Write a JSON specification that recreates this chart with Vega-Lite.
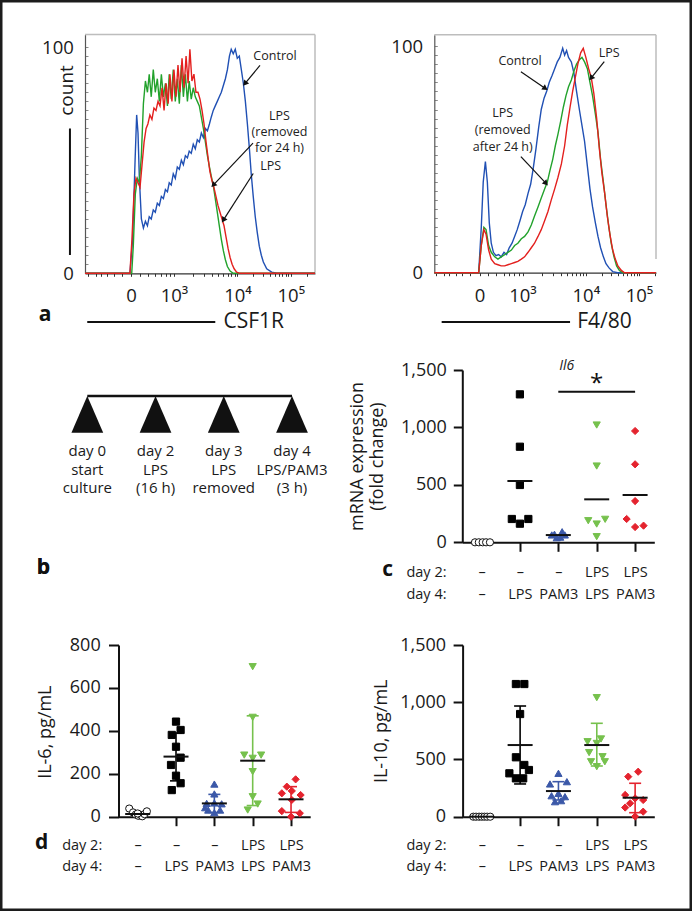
{
"$schema":"https://vega.github.io/schema/vega-lite/v6.json",
"width":692,"height":911,"padding":0,"autosize":{"type":"none"},
"background":"white",
"config":{"font":"Open Sans","view":{"stroke":"#1c1c1c","strokeWidth":5},"axis":{"grid":false,"labelColor":"#1a1a1a","titleColor":"#1a1a1a"}},
"resolve":{"scale":{"x":"independent","y":"independent","color":"independent","fill":"independent","stroke":"independent","shape":"independent"},"axis":{"x":"independent","y":"independent"}},
"datasets":{
"histL":[
{"s":"Control","ch":0,"count":0},{"s":"Control","ch":200,"count":0},{"s":"Control","ch":212,"count":15},{"s":"Control","ch":223,"count":50},{"s":"Control","ch":230,"count":70},{"s":"Control","ch":236,"count":62},{"s":"Control","ch":242,"count":42},{"s":"Control","ch":251,"count":24},{"s":"Control","ch":260,"count":20},{"s":"Control","ch":269,"count":23},{"s":"Control","ch":278,"count":21},{"s":"Control","ch":286,"count":25},{"s":"Control","ch":295,"count":24},{"s":"Control","ch":304,"count":28},{"s":"Control","ch":313,"count":27},{"s":"Control","ch":322,"count":31},{"s":"Control","ch":331,"count":30},{"s":"Control","ch":340,"count":34},{"s":"Control","ch":349,"count":33},{"s":"Control","ch":358,"count":37},{"s":"Control","ch":367,"count":36},{"s":"Control","ch":375,"count":40},{"s":"Control","ch":384,"count":39},{"s":"Control","ch":393,"count":44},{"s":"Control","ch":402,"count":42},{"s":"Control","ch":411,"count":47},{"s":"Control","ch":420,"count":46},{"s":"Control","ch":429,"count":50},{"s":"Control","ch":438,"count":48},{"s":"Control","ch":447,"count":52},{"s":"Control","ch":456,"count":51},{"s":"Control","ch":464,"count":54},{"s":"Control","ch":473,"count":53},{"s":"Control","ch":482,"count":57},{"s":"Control","ch":491,"count":55},{"s":"Control","ch":500,"count":59},{"s":"Control","ch":509,"count":58},{"s":"Control","ch":518,"count":62},{"s":"Control","ch":527,"count":60},{"s":"Control","ch":536,"count":64},{"s":"Control","ch":545,"count":63},{"s":"Control","ch":554,"count":66},{"s":"Control","ch":562,"count":69},{"s":"Control","ch":571,"count":72},{"s":"Control","ch":580,"count":74},{"s":"Control","ch":589,"count":76},{"s":"Control","ch":598,"count":78},{"s":"Control","ch":607,"count":80},{"s":"Control","ch":616,"count":83},{"s":"Control","ch":625,"count":86},{"s":"Control","ch":634,"count":90},{"s":"Control","ch":643,"count":96},{"s":"Control","ch":651,"count":99},{"s":"Control","ch":660,"count":97},{"s":"Control","ch":669,"count":99},{"s":"Control","ch":678,"count":95},{"s":"Control","ch":687,"count":96},{"s":"Control","ch":696,"count":90},{"s":"Control","ch":705,"count":84},{"s":"Control","ch":714,"count":76},{"s":"Control","ch":723,"count":66},{"s":"Control","ch":732,"count":55},{"s":"Control","ch":740,"count":44},{"s":"Control","ch":749,"count":34},{"s":"Control","ch":758,"count":25},{"s":"Control","ch":767,"count":18},{"s":"Control","ch":776,"count":12},{"s":"Control","ch":785,"count":8},{"s":"Control","ch":794,"count":5},{"s":"Control","ch":809,"count":2},{"s":"Control","ch":831,"count":0.5},{"s":"Control","ch":853,"count":0},{"s":"Control","ch":1024,"count":0},
{"s":"LPS removed","ch":0,"count":0},{"s":"LPS removed","ch":208,"count":0},{"s":"LPS removed","ch":215,"count":12},{"s":"LPS removed","ch":224,"count":35},{"s":"LPS removed","ch":233,"count":42},{"s":"LPS removed","ch":242,"count":40},{"s":"LPS removed","ch":251,"count":52},{"s":"LPS removed","ch":260,"count":75},{"s":"LPS removed","ch":269,"count":85},{"s":"LPS removed","ch":278,"count":80},{"s":"LPS removed","ch":286,"count":88},{"s":"LPS removed","ch":295,"count":78},{"s":"LPS removed","ch":304,"count":90},{"s":"LPS removed","ch":313,"count":80},{"s":"LPS removed","ch":322,"count":86},{"s":"LPS removed","ch":331,"count":76},{"s":"LPS removed","ch":340,"count":88},{"s":"LPS removed","ch":349,"count":78},{"s":"LPS removed","ch":358,"count":84},{"s":"LPS removed","ch":367,"count":74},{"s":"LPS removed","ch":375,"count":88},{"s":"LPS removed","ch":384,"count":77},{"s":"LPS removed","ch":393,"count":90},{"s":"LPS removed","ch":402,"count":76},{"s":"LPS removed","ch":411,"count":86},{"s":"LPS removed","ch":420,"count":75},{"s":"LPS removed","ch":429,"count":92},{"s":"LPS removed","ch":438,"count":78},{"s":"LPS removed","ch":447,"count":88},{"s":"LPS removed","ch":456,"count":76},{"s":"LPS removed","ch":464,"count":85},{"s":"LPS removed","ch":473,"count":77},{"s":"LPS removed","ch":482,"count":82},{"s":"LPS removed","ch":491,"count":78},{"s":"LPS removed","ch":500,"count":76},{"s":"LPS removed","ch":509,"count":74},{"s":"LPS removed","ch":518,"count":69},{"s":"LPS removed","ch":527,"count":64},{"s":"LPS removed","ch":536,"count":58},{"s":"LPS removed","ch":545,"count":52},{"s":"LPS removed","ch":554,"count":47},{"s":"LPS removed","ch":562,"count":43},{"s":"LPS removed","ch":571,"count":39},{"s":"LPS removed","ch":580,"count":33},{"s":"LPS removed","ch":589,"count":27},{"s":"LPS removed","ch":598,"count":21},{"s":"LPS removed","ch":607,"count":15},{"s":"LPS removed","ch":616,"count":10},{"s":"LPS removed","ch":625,"count":6},{"s":"LPS removed","ch":634,"count":3},{"s":"LPS removed","ch":646,"count":1},{"s":"LPS removed","ch":660,"count":0},{"s":"LPS removed","ch":1024,"count":0},
{"s":"LPS","ch":0,"count":0},{"s":"LPS","ch":200,"count":0},{"s":"LPS","ch":209,"count":15},{"s":"LPS","ch":218,"count":35},{"s":"LPS","ch":227,"count":42},{"s":"LPS","ch":236,"count":40},{"s":"LPS","ch":245,"count":38},{"s":"LPS","ch":254,"count":48},{"s":"LPS","ch":263,"count":58},{"s":"LPS","ch":272,"count":64},{"s":"LPS","ch":280,"count":66},{"s":"LPS","ch":289,"count":70},{"s":"LPS","ch":298,"count":68},{"s":"LPS","ch":307,"count":73},{"s":"LPS","ch":316,"count":72},{"s":"LPS","ch":325,"count":76},{"s":"LPS","ch":334,"count":74},{"s":"LPS","ch":343,"count":82},{"s":"LPS","ch":352,"count":72},{"s":"LPS","ch":361,"count":84},{"s":"LPS","ch":370,"count":75},{"s":"LPS","ch":378,"count":88},{"s":"LPS","ch":387,"count":76},{"s":"LPS","ch":396,"count":90},{"s":"LPS","ch":405,"count":78},{"s":"LPS","ch":414,"count":92},{"s":"LPS","ch":423,"count":80},{"s":"LPS","ch":432,"count":95},{"s":"LPS","ch":441,"count":82},{"s":"LPS","ch":450,"count":96},{"s":"LPS","ch":459,"count":84},{"s":"LPS","ch":467,"count":99},{"s":"LPS","ch":476,"count":85},{"s":"LPS","ch":485,"count":88},{"s":"LPS","ch":494,"count":80},{"s":"LPS","ch":503,"count":80},{"s":"LPS","ch":512,"count":77},{"s":"LPS","ch":521,"count":72},{"s":"LPS","ch":530,"count":66},{"s":"LPS","ch":539,"count":58},{"s":"LPS","ch":548,"count":51},{"s":"LPS","ch":556,"count":45},{"s":"LPS","ch":565,"count":41},{"s":"LPS","ch":574,"count":38},{"s":"LPS","ch":583,"count":34},{"s":"LPS","ch":592,"count":30},{"s":"LPS","ch":601,"count":27},{"s":"LPS","ch":610,"count":24},{"s":"LPS","ch":619,"count":21},{"s":"LPS","ch":628,"count":16},{"s":"LPS","ch":637,"count":11},{"s":"LPS","ch":646,"count":7},{"s":"LPS","ch":655,"count":4},{"s":"LPS","ch":664,"count":2},{"s":"LPS","ch":675,"count":0.5},{"s":"LPS","ch":690,"count":0},{"s":"LPS","ch":1024,"count":0}
],
"histR":[
{"s":"Control","ch":0,"count":0},{"s":"Control","ch":205,"count":0},{"s":"Control","ch":217,"count":20},{"s":"Control","ch":226,"count":40},{"s":"Control","ch":236,"count":49},{"s":"Control","ch":245,"count":40},{"s":"Control","ch":254,"count":22},{"s":"Control","ch":263,"count":13},{"s":"Control","ch":273,"count":9},{"s":"Control","ch":285,"count":7.5},{"s":"Control","ch":297,"count":8},{"s":"Control","ch":309,"count":7},{"s":"Control","ch":322,"count":9},{"s":"Control","ch":334,"count":8},{"s":"Control","ch":346,"count":11},{"s":"Control","ch":359,"count":13},{"s":"Control","ch":371,"count":16},{"s":"Control","ch":383,"count":19},{"s":"Control","ch":396,"count":23},{"s":"Control","ch":408,"count":27},{"s":"Control","ch":420,"count":30},{"s":"Control","ch":433,"count":35},{"s":"Control","ch":445,"count":39},{"s":"Control","ch":457,"count":46},{"s":"Control","ch":470,"count":55},{"s":"Control","ch":482,"count":64},{"s":"Control","ch":494,"count":72},{"s":"Control","ch":507,"count":77},{"s":"Control","ch":519,"count":80},{"s":"Control","ch":531,"count":84},{"s":"Control","ch":544,"count":87},{"s":"Control","ch":556,"count":90},{"s":"Control","ch":568,"count":93},{"s":"Control","ch":580,"count":95},{"s":"Control","ch":593,"count":99},{"s":"Control","ch":602,"count":96},{"s":"Control","ch":611,"count":98},{"s":"Control","ch":620,"count":95},{"s":"Control","ch":633,"count":93},{"s":"Control","ch":645,"count":88},{"s":"Control","ch":657,"count":80},{"s":"Control","ch":670,"count":72},{"s":"Control","ch":682,"count":65},{"s":"Control","ch":694,"count":58},{"s":"Control","ch":707,"count":47},{"s":"Control","ch":719,"count":37},{"s":"Control","ch":731,"count":29},{"s":"Control","ch":744,"count":22},{"s":"Control","ch":756,"count":16},{"s":"Control","ch":768,"count":11},{"s":"Control","ch":781,"count":7},{"s":"Control","ch":793,"count":4},{"s":"Control","ch":808,"count":2},{"s":"Control","ch":824,"count":0.5},{"s":"Control","ch":847,"count":0},{"s":"Control","ch":1024,"count":0},
{"s":"LPS removed","ch":0,"count":0},{"s":"LPS removed","ch":205,"count":0},{"s":"LPS removed","ch":217,"count":12},{"s":"LPS removed","ch":229,"count":20},{"s":"LPS removed","ch":239,"count":19},{"s":"LPS removed","ch":251,"count":12},{"s":"LPS removed","ch":263,"count":9},{"s":"LPS removed","ch":279,"count":7},{"s":"LPS removed","ch":294,"count":6},{"s":"LPS removed","ch":309,"count":7},{"s":"LPS removed","ch":325,"count":8},{"s":"LPS removed","ch":340,"count":9},{"s":"LPS removed","ch":356,"count":10},{"s":"LPS removed","ch":371,"count":12},{"s":"LPS removed","ch":386,"count":13},{"s":"LPS removed","ch":402,"count":15},{"s":"LPS removed","ch":417,"count":16},{"s":"LPS removed","ch":433,"count":18},{"s":"LPS removed","ch":448,"count":21},{"s":"LPS removed","ch":463,"count":25},{"s":"LPS removed","ch":479,"count":29},{"s":"LPS removed","ch":494,"count":33},{"s":"LPS removed","ch":510,"count":37},{"s":"LPS removed","ch":522,"count":40},{"s":"LPS removed","ch":534,"count":45},{"s":"LPS removed","ch":547,"count":50},{"s":"LPS removed","ch":559,"count":56},{"s":"LPS removed","ch":571,"count":61},{"s":"LPS removed","ch":584,"count":67},{"s":"LPS removed","ch":596,"count":73},{"s":"LPS removed","ch":608,"count":78},{"s":"LPS removed","ch":620,"count":82},{"s":"LPS removed","ch":633,"count":85},{"s":"LPS removed","ch":645,"count":89},{"s":"LPS removed","ch":657,"count":92},{"s":"LPS removed","ch":670,"count":94},{"s":"LPS removed","ch":682,"count":95},{"s":"LPS removed","ch":694,"count":93},{"s":"LPS removed","ch":707,"count":90},{"s":"LPS removed","ch":719,"count":84},{"s":"LPS removed","ch":731,"count":78},{"s":"LPS removed","ch":744,"count":70},{"s":"LPS removed","ch":756,"count":62},{"s":"LPS removed","ch":768,"count":50},{"s":"LPS removed","ch":781,"count":40},{"s":"LPS removed","ch":793,"count":30},{"s":"LPS removed","ch":805,"count":21},{"s":"LPS removed","ch":817,"count":13},{"s":"LPS removed","ch":830,"count":7},{"s":"LPS removed","ch":842,"count":3},{"s":"LPS removed","ch":855,"count":1},{"s":"LPS removed","ch":870,"count":0},{"s":"LPS removed","ch":1024,"count":0},
{"s":"LPS","ch":0,"count":0},{"s":"LPS","ch":205,"count":0},{"s":"LPS","ch":217,"count":12},{"s":"LPS","ch":229,"count":19},{"s":"LPS","ch":239,"count":17},{"s":"LPS","ch":251,"count":10},{"s":"LPS","ch":263,"count":6},{"s":"LPS","ch":279,"count":4},{"s":"LPS","ch":294,"count":3.5},{"s":"LPS","ch":309,"count":3},{"s":"LPS","ch":325,"count":3},{"s":"LPS","ch":340,"count":3.5},{"s":"LPS","ch":356,"count":4},{"s":"LPS","ch":371,"count":4.5},{"s":"LPS","ch":386,"count":5},{"s":"LPS","ch":402,"count":6},{"s":"LPS","ch":417,"count":7},{"s":"LPS","ch":433,"count":9},{"s":"LPS","ch":448,"count":11},{"s":"LPS","ch":463,"count":13},{"s":"LPS","ch":479,"count":16},{"s":"LPS","ch":494,"count":19},{"s":"LPS","ch":510,"count":23},{"s":"LPS","ch":525,"count":27},{"s":"LPS","ch":540,"count":32},{"s":"LPS","ch":556,"count":37},{"s":"LPS","ch":571,"count":42},{"s":"LPS","ch":587,"count":48},{"s":"LPS","ch":602,"count":56},{"s":"LPS","ch":614,"count":65},{"s":"LPS","ch":627,"count":73},{"s":"LPS","ch":639,"count":80},{"s":"LPS","ch":651,"count":86},{"s":"LPS","ch":663,"count":92},{"s":"LPS","ch":676,"count":97},{"s":"LPS","ch":688,"count":99},{"s":"LPS","ch":700,"count":95},{"s":"LPS","ch":713,"count":90},{"s":"LPS","ch":725,"count":86},{"s":"LPS","ch":737,"count":79},{"s":"LPS","ch":750,"count":68},{"s":"LPS","ch":762,"count":55},{"s":"LPS","ch":774,"count":44},{"s":"LPS","ch":787,"count":35},{"s":"LPS","ch":799,"count":25},{"s":"LPS","ch":811,"count":17},{"s":"LPS","ch":824,"count":10},{"s":"LPS","ch":836,"count":6},{"s":"LPS","ch":848,"count":3},{"s":"LPS","ch":864,"count":1},{"s":"LPS","ch":879,"count":0},{"s":"LPS","ch":1024,"count":0}
],
"frameL":[{"ch":0,"count":105.5,"ch2":1024,"count2":105.5},{"ch":1024,"count":0,"ch2":1024,"count2":105.5}],
"barsL":[{"ch":-67,"count":8.1,"ch2":-67,"count2":64},{"ch":10,"count":-21.5,"ch2":580,"count2":-21.5}],
"textL":[{"ch":846,"count":95.9,"t":"Control"},{"ch":866,"count":69.5,"t":"LPS"},{"ch":866,"count":62.5,"t":"(removed"},{"ch":866,"count":55.3,"t":"for 24 h)"},{"ch":827,"count":47.3,"t":"LPS"}],
"arrowsL":[{"ch":712,"count":83.8,"ch2":779,"count2":91.9,"angle":219},{"ch":571,"count":39,"ch2":748,"count2":57.5,"angle":223},{"ch":616,"count":23.5,"ch2":749,"count2":44.1,"angle":213}],
"letterA":[{"ch":-178,"count":-18.4,"t":"a"}],
"frameR":[{"ch":0,"count":105,"ch2":1024,"count2":105},{"ch":1024,"count":6,"ch2":1024,"count2":105}],
"barsR":[{"ch":34,"count":-21.7,"ch2":627,"count2":-21.7}],
"textR":[{"ch":808,"count":97,"t":"LPS"},{"ch":396,"count":93.4,"t":"Control"},{"ch":316,"count":70.3,"t":"LPS"},{"ch":316,"count":63,"t":"(removed"},{"ch":316,"count":55.6,"t":"after 24 h)"}],
"arrowsR":[{"ch":724,"count":85.8,"ch2":785,"count2":93.1,"angle":219},{"ch":513,"count":81.3,"ch2":400,"count2":88.7,"angle":124},{"ch":516,"count":39.4,"ch2":400,"count2":51.2,"angle":137}],
"timeline":[{"step":0,"step2":3,"row":0}],
"tri":[{"step":0,"row":1},{"step":1,"row":1},{"step":2,"row":1},{"step":3,"row":1}],
"tlabels":[{"step":0,"row":3,"t":"day 0"},{"step":0,"row":4,"t":"start"},{"step":0,"row":5,"t":"culture"},{"step":1,"row":3,"t":"day 2"},{"step":1,"row":4,"t":"LPS"},{"step":1,"row":5,"t":"(16 h)"},{"step":2,"row":3,"t":"day 3"},{"step":2,"row":4,"t":"LPS"},{"step":2,"row":5,"t":"removed"},{"step":3,"row":3,"t":"day 4"},{"step":3,"row":4,"t":"LPS/PAM3"},{"step":3,"row":5,"t":"(3 h)"}],
"letterB":[{"step":-0.645,"row":9.36,"t":"b"}],
"ptsC":[
{"grp":0.83,"val":0,"g":"1"},{"grp":0.93,"val":0,"g":"1"},{"grp":1.03,"val":0,"g":"1"},{"grp":1.12,"val":0,"g":"1"},{"grp":1.22,"val":0,"g":"1"},
{"grp":2.0,"val":1288,"g":"2"},{"grp":2.0,"val":832,"g":"2"},{"grp":2.0,"val":499,"g":"2"},{"grp":1.79,"val":203,"g":"2"},{"grp":2.0,"val":162,"g":"2"},{"grp":2.22,"val":203,"g":"2"},
{"grp":2.83,"val":64,"g":"3"},{"grp":2.96,"val":40,"g":"3"},{"grp":3.1,"val":92,"g":"3"},{"grp":3.05,"val":45,"g":"3"},{"grp":3.17,"val":64,"g":"3"},{"grp":2.9,"val":70,"g":"3"},
{"grp":4.0,"val":1021,"g":"4"},{"grp":4.0,"val":664,"g":"4"},{"grp":3.78,"val":188,"g":"4"},{"grp":4.0,"val":159,"g":"4"},{"grp":4.22,"val":200,"g":"4"},{"grp":4.0,"val":49,"g":"4"},
{"grp":5.0,"val":969,"g":"5"},{"grp":5.0,"val":679,"g":"5"},{"grp":5.0,"val":359,"g":"5"},{"grp":4.78,"val":203,"g":"5"},{"grp":5.0,"val":133,"g":"5"},{"grp":5.22,"val":145,"g":"5"}
],
"meanC":[{"grp":2,"val":533},{"grp":3,"val":63},{"grp":4,"val":374},{"grp":5,"val":412}],
"sigC":[{"grp":3,"grp2":5,"val":1311}],
"starC":[{"grp":4,"val":1375,"t":"*"}],
"geneC":[{"grp":3.22,"val":1537,"t":"Il6"}],
"letterC":[{"grp":-1.443,"val":-241,"t":"c"}],
"pts6":[
{"grp":0.78,"val":38,"g":"1"},{"grp":0.88,"val":20,"g":"1"},{"grp":0.95,"val":10,"g":"1"},{"grp":1.02,"val":4,"g":"1"},{"grp":1.08,"val":8,"g":"1"},{"grp":1.12,"val":2,"g":"1"},{"grp":1.0,"val":15,"g":"1"},{"grp":1.18,"val":12,"g":"1"},{"grp":1.24,"val":25,"g":"1"},
{"grp":2.0,"val":443,"g":"2"},{"grp":1.89,"val":381,"g":"2"},{"grp":2.12,"val":404,"g":"2"},{"grp":2.0,"val":326,"g":"2"},{"grp":2.12,"val":275,"g":"2"},{"grp":1.87,"val":241,"g":"2"},{"grp":2.0,"val":191,"g":"2"},{"grp":2.12,"val":156,"g":"2"},{"grp":1.89,"val":124,"g":"2"},
{"grp":3.0,"val":152,"g":"3"},{"grp":3.0,"val":106,"g":"3"},{"grp":2.8,"val":62,"g":"3"},{"grp":3.0,"val":64,"g":"3"},{"grp":3.19,"val":60,"g":"3"},{"grp":2.84,"val":31,"g":"3"},{"grp":3.15,"val":31,"g":"3"},{"grp":3.0,"val":19,"g":"3"},{"grp":2.76,"val":42,"g":"3"},
{"grp":4.0,"val":699,"g":"4"},{"grp":4.0,"val":463,"g":"4"},{"grp":3.78,"val":287,"g":"4"},{"grp":4.22,"val":287,"g":"4"},{"grp":4.0,"val":272,"g":"4"},{"grp":4.0,"val":210,"g":"4"},{"grp":4.0,"val":93,"g":"4"},{"grp":4.13,"val":59,"g":"4"},{"grp":3.87,"val":31,"g":"4"},
{"grp":5.12,"val":174,"g":"5"},{"grp":4.89,"val":140,"g":"5"},{"grp":4.76,"val":109,"g":"5"},{"grp":5.25,"val":101,"g":"5"},{"grp":5.02,"val":120,"g":"5"},{"grp":5.02,"val":78,"g":"5"},{"grp":4.76,"val":26,"g":"5"},{"grp":5.23,"val":16,"g":"5"},{"grp":5.0,"val":0,"g":"5"}
],
"sum6":[{"grp":1,"val":12.5,"g":"1"},{"grp":2,"val":280,"lo":167,"hi":390,"g":"2"},{"grp":3,"val":62,"lo":20,"hi":104,"g":"3"},{"grp":4,"val":261,"lo":52,"hi":470,"g":"4"},{"grp":5,"val":81,"lo":20,"hi":140,"g":"5"}],
"caps6":[{"grp":2,"val":167,"g":"2"},{"grp":2,"val":390,"g":"2"},{"grp":3,"val":20,"g":"3"},{"grp":3,"val":104,"g":"3"},{"grp":4,"val":52,"g":"4"},{"grp":4,"val":470,"g":"4"},{"grp":5,"val":20,"g":"5"},{"grp":5,"val":140,"g":"5"}],
"letters6":[{"grp":-1.46,"val":1157,"t":"b"},{"grp":-1.503,"val":-124,"t":"d"}],
"pts10":[
{"grp":0.78,"val":0,"g":"1"},{"grp":0.85,"val":0,"g":"1"},{"grp":0.93,"val":0,"g":"1"},{"grp":1.0,"val":0,"g":"1"},{"grp":1.07,"val":0,"g":"1"},{"grp":1.14,"val":0,"g":"1"},{"grp":1.22,"val":0,"g":"1"},
{"grp":1.89,"val":1159,"g":"2"},{"grp":2.11,"val":1159,"g":"2"},{"grp":2.0,"val":897,"g":"2"},{"grp":1.89,"val":519,"g":"2"},{"grp":2.11,"val":452,"g":"2"},{"grp":2.23,"val":408,"g":"2"},{"grp":1.72,"val":379,"g":"2"},{"grp":1.89,"val":335,"g":"2"},{"grp":2.08,"val":335,"g":"2"},
{"grp":3.0,"val":379,"g":"3"},{"grp":3.22,"val":306,"g":"3"},{"grp":2.78,"val":286,"g":"3"},{"grp":3.0,"val":204,"g":"3"},{"grp":2.82,"val":183,"g":"3"},{"grp":3.17,"val":175,"g":"3"},{"grp":2.91,"val":131,"g":"3"},{"grp":3.07,"val":140,"g":"3"},
{"grp":4.0,"val":1040,"g":"4"},{"grp":4.11,"val":679,"g":"4"},{"grp":3.76,"val":655,"g":"4"},{"grp":4.0,"val":640,"g":"4"},{"grp":3.8,"val":560,"g":"4"},{"grp":4.15,"val":524,"g":"4"},{"grp":3.85,"val":480,"g":"4"},{"grp":4.21,"val":480,"g":"4"},{"grp":4.0,"val":437,"g":"4"},
{"grp":5.08,"val":393,"g":"5"},{"grp":4.82,"val":350,"g":"5"},{"grp":4.74,"val":190,"g":"5"},{"grp":5.0,"val":160,"g":"5"},{"grp":5.21,"val":146,"g":"5"},{"grp":4.87,"val":117,"g":"5"},{"grp":4.74,"val":80,"g":"5"},{"grp":5.21,"val":44,"g":"5"},{"grp":5.0,"val":2,"g":"5"}
],
"sum10":[{"grp":1,"val":0,"g":"1"},{"grp":2,"val":626,"lo":286,"hi":967,"g":"2"},{"grp":3,"val":224,"lo":146,"hi":306,"g":"3"},{"grp":4,"val":626,"lo":443,"hi":816,"g":"4"},{"grp":5,"val":166,"lo":35,"hi":292,"g":"5"}],
"caps10":[{"grp":2,"val":286,"g":"2"},{"grp":2,"val":967,"g":"2"},{"grp":3,"val":146,"g":"3"},{"grp":3,"val":306,"g":"3"},{"grp":4,"val":443,"g":"4"},{"grp":4,"val":816,"g":"4"},{"grp":5,"val":35,"g":"5"},{"grp":5,"val":292,"g":"5"}]
},
"layer":[
{
"encoding":{
"x":{"field":"ch","type":"quantitative","scale":{"domain":[0,1024],"range":[85,315],"nice":false,"zero":false},
"axis":{"orient":"bottom","offset":-637.7,"values":[13.4,49,71,98,129,165,204.8,245,280,312,338,361,378,396.2,481,531,566,594,616,635,651,666,678.9,750,792,822,845,864,879,893,906,916.2,988],
"labelExpr":"datum.value == 204.8 ? '0' : datum.value == 396.2 ? '10³' : datum.value == 678.9 ? '10⁴' : datum.value == 916.2 ? '10⁵' : ''",
"tickSize":3,"tickWidth":1,"tickColor":"#333333","domainColor":"#333333","domainWidth":1.2,"labelFontSize":18.5,"labelBaseline":"middle","labelPadding":18.7,"labelOverlap":false,"labelFlush":false,"labelBound":false,
"title":"CSF1R","titleFontSize":21,"titleFontWeight":"normal","titleAlign":"left","titleBaseline":"middle","titleX":223,"titleY":48.4}},
"y":{"field":"count","type":"quantitative","scale":{"domain":[0,105.5],"range":[273.3,34.6],"nice":false,"zero":false},
"axis":{"orient":"left","offset":-85,"values":[0,4,8,12,16,20,24,28,32,36,40,44,48,52,56,60,64,68,72,76,80,84,88,92,96,100],
"labelExpr":"datum.value == 0 || datum.value == 100 ? datum.label : ''",
"tickSize":-3,"tickWidth":1,"tickColor":"#8a8a8a","domainColor":"#555555","domainWidth":1.2,"labelFontSize":18.5,"labelPadding":14.7,"labelBaseline":"middle","labelOverlap":false,"labelFlush":false,"labelBound":false,
"title":"count","titleFontSize":19,"titleFontWeight":"normal","titleAngle":-90,"titleAlign":"center","titleBaseline":"middle","titleX":-18.3,"titleY":90}}
},
"layer":[
{"data":{"name":"frameL"},"mark":{"type":"rule","color":"#bdbdbd","strokeWidth":1.5},"encoding":{"x2":{"field":"ch2"},"y2":{"field":"count2"}}},
{"data":{"name":"histL"},"mark":{"type":"line","strokeWidth":1.4},"encoding":{"color":{"field":"s","type":"nominal","scale":{"domain":["Control","LPS removed","LPS"],"range":["#2050b4","#22a22c","#e3201e"]},"legend":null}}},
{"data":{"name":"barsL"},"mark":{"type":"rule","color":"#111111","strokeWidth":2},"encoding":{"x2":{"field":"ch2"},"y2":{"field":"count2"}}},
{"data":{"name":"arrowsL"},"mark":{"type":"rule","color":"#111111","strokeWidth":1.2},"encoding":{"x2":{"field":"ch2"},"y2":{"field":"count2"}}},
{"data":{"name":"arrowsL"},"mark":{"type":"point","shape":"triangle-up","size":40,"filled":true,"color":"#111111","opacity":1},"encoding":{"angle":{"field":"angle","type":"quantitative","scale":null}}},
{"data":{"name":"textL"},"mark":{"type":"text","fontSize":12.5,"color":"#222222","align":"center","baseline":"middle"},"encoding":{"text":{"field":"t"}}},
{"data":{"name":"letterA"},"mark":{"type":"text","fontSize":21,"fontWeight":"bold","color":"#111111","align":"center","baseline":"middle"},"encoding":{"text":{"field":"t"}}}
]
},
{
"encoding":{
"x":{"field":"ch","type":"quantitative","scale":{"domain":[0,1024],"range":[434.3,656],"nice":false,"zero":false},
"axis":{"orient":"bottom","offset":-638.3,"values":[10,47,70,98,130,167,208.8,250,287,320,347,370,389,407.4,495.6,546.9,583.4,611.6,634.7,654.6,671.6,686.4,699.8,773.7,817.1,847.6,871.6,891,907.7,921.5,934.4,945.5,1019],
"labelExpr":"datum.value == 208.8 ? '0' : datum.value == 407.4 ? '10³' : datum.value == 699.8 ? '10⁴' : datum.value == 945.5 ? '10⁵' : ''",
"tickSize":3,"tickWidth":1,"tickColor":"#333333","domainColor":"#333333","domainWidth":1.2,"labelFontSize":18.5,"labelBaseline":"middle","labelPadding":19.3,"labelOverlap":false,"labelFlush":false,"labelBound":false,
"title":"F4/80","titleFontSize":21,"titleFontWeight":"normal","titleAlign":"left","titleBaseline":"middle","titleX":576.7,"titleY":49}},
"y":{"field":"count","type":"quantitative","scale":{"domain":[0,105],"range":[272.7,34.7],"nice":false,"zero":false},
"axis":{"orient":"left","offset":-434.3,"values":[0,4,8,12,16,20,24,28,32,36,40,44,48,52,56,60,64,68,72,76,80,84,88,92,96,100],
"labelExpr":"datum.value == 0 || datum.value == 100 ? datum.label : ''",
"tickSize":-3,"tickWidth":1,"tickColor":"#8a8a8a","domainColor":"#555555","domainWidth":1.2,"labelFontSize":18.5,"labelPadding":14.7,"labelBaseline":"middle","labelOverlap":false,"labelFlush":false,"labelBound":false,"title":null}}
},
"layer":[
{"data":{"name":"frameR"},"mark":{"type":"rule","color":"#bdbdbd","strokeWidth":1.5},"encoding":{"x2":{"field":"ch2"},"y2":{"field":"count2"}}},
{"data":{"name":"histR"},"mark":{"type":"line","strokeWidth":1.4},"encoding":{"color":{"field":"s","type":"nominal","scale":{"domain":["Control","LPS removed","LPS"],"range":["#2050b4","#22a22c","#e3201e"]},"legend":null}}},
{"data":{"name":"barsR"},"mark":{"type":"rule","color":"#111111","strokeWidth":2},"encoding":{"x2":{"field":"ch2"},"y2":{"field":"count2"}}},
{"data":{"name":"arrowsR"},"mark":{"type":"rule","color":"#111111","strokeWidth":1.2},"encoding":{"x2":{"field":"ch2"},"y2":{"field":"count2"}}},
{"data":{"name":"arrowsR"},"mark":{"type":"point","shape":"triangle-up","size":40,"filled":true,"color":"#111111","opacity":1},"encoding":{"angle":{"field":"angle","type":"quantitative","scale":null}}},
{"data":{"name":"textR"},"mark":{"type":"text","fontSize":12.5,"color":"#222222","align":"center","baseline":"middle"},"encoding":{"text":{"field":"t"}}}
]
},
{
"encoding":{
"x":{"field":"step","type":"quantitative","scale":{"domain":[0,3],"range":[87.3,292],"nice":false,"zero":false},"axis":null},
"y":{"field":"row","type":"quantitative","scale":{"domain":[0,5],"range":[396,488],"nice":false,"zero":false},"axis":null}
},
"layer":[
{"data":{"name":"timeline"},"mark":{"type":"rule","color":"#111111","strokeWidth":2.5},"encoding":{"x2":{"field":"step2"}}},
{"data":{"name":"tri"},"mark":{"type":"point","shape":"M0,-1L0.865,1L-0.865,1Z","size":1347,"filled":true,"color":"#111111","opacity":1,"strokeWidth":0}},
{"data":{"name":"tlabels"},"mark":{"type":"text","fontSize":15,"color":"#1a1a1a","align":"center","baseline":"middle"},"encoding":{"text":{"field":"t"}}},
{"data":{"name":"letterB"},"mark":{"type":"text","fontSize":21,"fontWeight":"bold","color":"#111111","align":"center","baseline":"middle"},"encoding":{"text":{"field":"t"}}}
]
},
{
"encoding":{
"x":{"field":"grp","type":"quantitative","scale":{"domain":[0.5,5.5],"range":[462.3,654.3],"nice":false,"zero":false},
"axis":{"orient":"bottom","offset":-368.7,"values":[1,2,3,4,5],
"labelExpr":"datum.value === 1 ? ['–','–'] : datum.value === 2 ? ['–','LPS'] : datum.value === 3 ? ['–','PAM3'] : datum.value === 4 ? ['LPS','LPS'] : ['LPS','PAM3']",
"tickSize":9,"tickWidth":2,"tickColor":"#111111","tickOpacity":{"condition":{"test":"datum.value === 1","value":0},"value":1},"domainColor":"#111111","domainWidth":2,
"labelFontSize":14.5,"labelLineHeight":21.7,"labelBaseline":"middle","labelPadding":21.3,"labelOverlap":false,"labelFlush":false,"labelBound":false,
"title":["day 2:","day 4:"],"titleFontSize":14.5,"titleFontWeight":"normal","titleLineHeight":21.7,"titleAlign":"right","titleBaseline":"middle","titleX":446,"titleY":30.3}},
"y":{"field":"val","type":"quantitative","scale":{"domain":[0,1500],"range":[542.3,370],"nice":false,"zero":false},
"axis":{"orient":"left","offset":-462.3,"values":[0,500,1000,1500],"format":",.0f","tickSize":9,"tickWidth":2,"tickColor":"#111111","domainColor":"#111111","domainWidth":2,
"labelFontSize":18,"labelPadding":7,"labelBaseline":"middle","labelOverlap":false,"labelFlush":false,"labelBound":false,
"title":["mRNA expression","(fold change)"],"titleFontSize":18,"titleFontWeight":"normal","titleLineHeight":19.3,"titleAngle":-90,"titleAlign":"center","titleBaseline":"middle","titleX":-104.5,"titleY":456}}
},
"layer":[
{"data":{"name":"ptsC"},"mark":{"type":"point","size":52,"strokeWidth":1,"opacity":1},"encoding":{
"shape":{"field":"g","type":"nominal","scale":{"domain":["1","2","3","4","5"],"range":["circle","square","triangle-up","triangle-down","diamond"]},"legend":null},
"fill":{"field":"g","type":"nominal","scale":{"domain":["1","2","3","4","5"],"range":["#ffffff","#000000","#3b58a8","#76c14d","#e4232e"]},"legend":null},
"stroke":{"field":"g","type":"nominal","scale":{"domain":["1","2","3","4","5"],"range":["#111111","#000000","#3b58a8","#76c14d","#e4232e"]},"legend":null}}},
{"data":{"name":"meanC"},"mark":{"type":"tick","orient":"horizontal","size":25,"thickness":2,"color":"#111111","opacity":1}},
{"data":{"name":"sigC"},"mark":{"type":"rule","color":"#111111","strokeWidth":2},"encoding":{"x2":{"field":"grp2"}}},
{"data":{"name":"starC"},"mark":{"type":"text","fontSize":24,"color":"#111111","align":"center","baseline":"middle"},"encoding":{"text":{"field":"t"}}},
{"data":{"name":"geneC"},"mark":{"type":"text","fontSize":14,"fontStyle":"italic","color":"#1a1a1a","align":"center","baseline":"middle"},"encoding":{"text":{"field":"t"}}},
{"data":{"name":"letterC"},"mark":{"type":"text","fontSize":21,"fontWeight":"bold","color":"#111111","align":"center","baseline":"middle"},"encoding":{"text":{"field":"t"}}}
]
},
{
"encoding":{
"x":{"field":"grp","type":"quantitative","scale":{"domain":[0.5,5.5],"range":[118.5,310.2],"nice":false,"zero":false},
"axis":{"orient":"bottom","offset":-94.3,"values":[1,2,3,4,5],
"labelExpr":"datum.value === 1 ? ['–','–'] : datum.value === 2 ? ['–','LPS'] : datum.value === 3 ? ['–','PAM3'] : datum.value === 4 ? ['LPS','LPS'] : ['LPS','PAM3']",
"tickSize":9,"tickWidth":2,"tickColor":"#111111","tickOpacity":{"condition":{"test":"datum.value === 1","value":0},"value":1},"domainColor":"#111111","domainWidth":2,
"labelFontSize":14.5,"labelLineHeight":21,"labelBaseline":"middle","labelPadding":19.8,"labelOverlap":false,"labelFlush":false,"labelBound":false,
"title":["day 2:","day 4:"],"titleFontSize":14.5,"titleFontWeight":"normal","titleLineHeight":21,"titleAlign":"right","titleBaseline":"middle","titleX":101.7,"titleY":28.8}},
"y":{"field":"val","type":"quantitative","scale":{"domain":[0,800],"range":[816.7,645],"nice":false,"zero":false},
"axis":{"orient":"left","offset":-118.5,"values":[0,200,400,600,800],"tickSize":10,"tickWidth":2,"tickColor":"#111111","domainColor":"#111111","domainWidth":2,
"labelFontSize":18,"labelPadding":8.3,"labelBaseline":"middle","labelOverlap":false,"labelFlush":false,"labelBound":false,
"title":"IL-6, pg/mL","titleFontSize":18,"titleFontWeight":"normal","titleAngle":-90,"titleAlign":"center","titleBaseline":"middle","titleX":-73.5,"titleY":731.7}}
},
"layer":[
{"data":{"name":"sum6"},"mark":{"type":"rule","strokeWidth":1.6},"encoding":{
"y":{"field":"lo","type":"quantitative","scale":{"domain":[0,800],"range":[816.7,645],"nice":false,"zero":false}},
"y2":{"field":"hi"},
"color":{"field":"g","type":"nominal","scale":{"domain":["1","2","3","4","5"],"range":["#111111","#000000","#3b58a8","#76c14d","#e4232e"]},"legend":null}}},
{"data":{"name":"caps6"},"mark":{"type":"tick","orient":"horizontal","size":12,"thickness":1.6,"opacity":1},"encoding":{
"color":{"field":"g","type":"nominal","scale":{"domain":["1","2","3","4","5"],"range":["#111111","#000000","#3b58a8","#76c14d","#e4232e"]},"legend":null}}},
{"data":{"name":"pts6"},"mark":{"type":"point","size":52,"strokeWidth":1,"opacity":1},"encoding":{
"shape":{"field":"g","type":"nominal","scale":{"domain":["1","2","3","4","5"],"range":["circle","square","triangle-up","triangle-down","diamond"]},"legend":null},
"fill":{"field":"g","type":"nominal","scale":{"domain":["1","2","3","4","5"],"range":["#ffffff","#000000","#3b58a8","#76c14d","#e4232e"]},"legend":null},
"stroke":{"field":"g","type":"nominal","scale":{"domain":["1","2","3","4","5"],"range":["#111111","#000000","#3b58a8","#76c14d","#e4232e"]},"legend":null}}},
{"data":{"name":"sum6"},"mark":{"type":"tick","orient":"horizontal","size":25,"thickness":2,"color":"#111111","opacity":1}},
{"data":{"name":"letters6"},"mark":{"type":"text","fontSize":21,"fontWeight":"bold","color":"#111111","align":"center","baseline":"middle"},"encoding":{"text":{"field":"t"}}}
]
},
{
"encoding":{
"x":{"field":"grp","type":"quantitative","scale":{"domain":[0.5,5.5],"range":[462.6,654.3],"nice":false,"zero":false},
"axis":{"orient":"bottom","offset":-94.3,"values":[1,2,3,4,5],
"labelExpr":"datum.value === 1 ? ['–','–'] : datum.value === 2 ? ['–','LPS'] : datum.value === 3 ? ['–','PAM3'] : datum.value === 4 ? ['LPS','LPS'] : ['LPS','PAM3']",
"tickSize":9,"tickWidth":2,"tickColor":"#111111","tickOpacity":{"condition":{"test":"datum.value === 1","value":0},"value":1},"domainColor":"#111111","domainWidth":2,
"labelFontSize":14.5,"labelLineHeight":21,"labelBaseline":"middle","labelPadding":19.8,"labelOverlap":false,"labelFlush":false,"labelBound":false,
"title":["day 2:","day 4:"],"titleFontSize":14.5,"titleFontWeight":"normal","titleLineHeight":21,"titleAlign":"right","titleBaseline":"middle","titleX":446,"titleY":28.8}},
"y":{"field":"val","type":"quantitative","scale":{"domain":[0,1500],"range":[816.7,645],"nice":false,"zero":false},
"axis":{"orient":"left","offset":-462.6,"values":[0,500,1000,1500],"format":",.0f","tickSize":9.5,"tickWidth":2,"tickColor":"#111111","domainColor":"#111111","domainWidth":2,
"labelFontSize":18,"labelPadding":7.5,"labelBaseline":"middle","labelOverlap":false,"labelFlush":false,"labelBound":false,
"title":"IL-10, pg/mL","titleFontSize":18,"titleFontWeight":"normal","titleAngle":-90,"titleAlign":"center","titleBaseline":"middle","titleX":-81.6,"titleY":730.8}}
},
"layer":[
{"data":{"name":"sum10"},"mark":{"type":"rule","strokeWidth":1.6},"encoding":{
"y":{"field":"lo","type":"quantitative","scale":{"domain":[0,1500],"range":[816.7,645],"nice":false,"zero":false}},
"y2":{"field":"hi"},
"color":{"field":"g","type":"nominal","scale":{"domain":["1","2","3","4","5"],"range":["#111111","#000000","#3b58a8","#76c14d","#e4232e"]},"legend":null}}},
{"data":{"name":"caps10"},"mark":{"type":"tick","orient":"horizontal","size":12,"thickness":1.6,"opacity":1},"encoding":{
"color":{"field":"g","type":"nominal","scale":{"domain":["1","2","3","4","5"],"range":["#111111","#000000","#3b58a8","#76c14d","#e4232e"]},"legend":null}}},
{"data":{"name":"pts10"},"mark":{"type":"point","size":52,"strokeWidth":1,"opacity":1},"encoding":{
"shape":{"field":"g","type":"nominal","scale":{"domain":["1","2","3","4","5"],"range":["circle","square","triangle-up","triangle-down","diamond"]},"legend":null},
"fill":{"field":"g","type":"nominal","scale":{"domain":["1","2","3","4","5"],"range":["#ffffff","#000000","#3b58a8","#76c14d","#e4232e"]},"legend":null},
"stroke":{"field":"g","type":"nominal","scale":{"domain":["1","2","3","4","5"],"range":["#111111","#000000","#3b58a8","#76c14d","#e4232e"]},"legend":null}}},
{"data":{"name":"sum10"},"mark":{"type":"tick","orient":"horizontal","size":25,"thickness":2,"color":"#111111","opacity":1}}
]
}
]
}
